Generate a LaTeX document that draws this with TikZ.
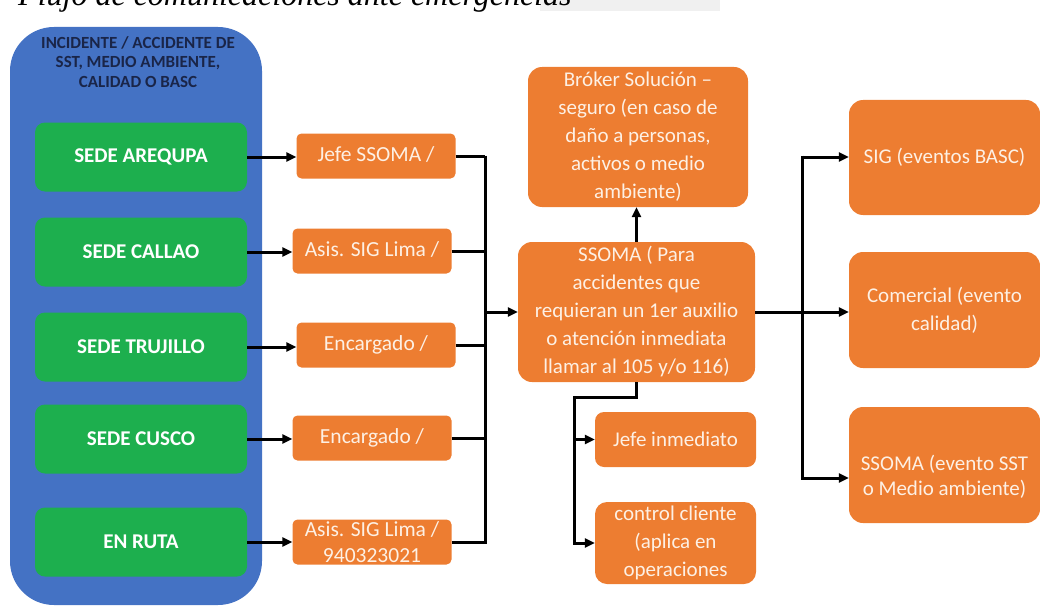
\documentclass[tikz,border=0pt]{standalone}
\usepackage{fontspec}
\setmainfont{Carlito}
\newfontfamily\titlefont{Liberation Serif}
\usetikzlibrary{arrows.meta}
\definecolor{blu}{HTML}{4472C4}
\definecolor{grn}{HTML}{1DAF4E}
\definecolor{org}{HTML}{ED7D31}
\definecolor{navy}{HTML}{1A2548}
\definecolor{cream}{HTML}{FDF0E4}
\tikzset{
  greenbox/.style={fill=grn, rounded corners=10pt, minimum width=212pt, minimum height=69pt,
    text=white, font=\fontsize{21}{24}\selectfont\bfseries},
  midbox/.style={fill=org, rounded corners=5pt, minimum width=159pt, minimum height=45pt,
    inner ysep=0pt, text=cream, align=center, font=\fontsize{21.5}{26}\selectfont},
  bigbox/.style={fill=org, rounded corners=14pt, inner sep=0pt, text=cream, align=center,
    font=\fontsize{21}{28}\selectfont},
  boxtext/.style={text=cream, align=center, inner sep=0pt, font=\fontsize{21}{25}\selectfont},
  ln/.style={line width=3pt, black},
  arr/.style={line width=3pt, black, -{Triangle[length=10pt,width=9pt]}},
}
\begin{document}
\begin{tikzpicture}[x=1pt,y=-1pt]
\useasboundingbox (0,0) rectangle (1040,607);
\clip (0,0) rectangle (1040,607);
% faded strip behind the title
\fill[gray!12] (540,0) rectangle (720,11);
\node[anchor=base west, inner sep=0pt, font=\titlefont\itshape\fontsize{32}{36}\selectfont] (title) at (18,6) {Flujo de comunicaciones ante emergencias};
% left column
\node[fill=blu, rounded corners=44pt, minimum width=252pt, minimum height=578pt] (blue) at (136,316) {};
\node[text=navy, align=center, font=\fontsize{17}{19.5}\selectfont\bfseries] (hdr) at (138,62) {INCIDENTE / ACCIDENTE DE\\SST, MEDIO AMBIENTE,\\CALIDAD O BASC};
\node[greenbox] (g1) at (141,157) {SEDE AREQUPA};
\node[greenbox] (g2) at (141,252) {SEDE CALLAO};
\node[greenbox] (g3) at (141,347) {SEDE TRUJILLO};
\node[greenbox] (g4) at (141,439) {SEDE CUSCO};
\node[greenbox] (g5) at (141,542) {EN RUTA};
% middle contacts
\node[midbox] (m1) at (376,156) {\raisebox{4pt}{Jefe SSOMA /}};
\node[midbox] (m2) at (372,251) {\raisebox{4pt}{Asis. SIG Lima /}};
\node[midbox] (m3) at (376,345) {\raisebox{4pt}{Encargado /}};
\node[midbox] (m4) at (372,438) {\raisebox{4pt}{Encargado /}};
\node[midbox] (m5) at (372,542) {Asis. SIG Lima /\\940323021};
% central boxes
\node[bigbox, minimum width=237pt, minimum height=140pt] (ssoma) at (636.5,312) {\raisebox{-2pt}{\parbox{230pt}{\centering SSOMA ( Para\\accidentes que\\requieran un 1er auxilio\\o atención inmediata\\llamar al 105 y/o 116)}}};
\node[bigbox, minimum width=220pt, minimum height=140pt] (broker) at (638,137) {\raisebox{-3pt}{\parbox{215pt}{\centering Bróker Solución –\\seguro (en caso de\\daño a personas,\\activos o medio\\ambiente)}}};
\node[bigbox, rounded corners=9pt, minimum width=161pt, minimum height=55pt] (ji) at (675.5,439.5) {Jefe inmediato};
\node[bigbox, rounded corners=12pt, minimum width=161pt, minimum height=82pt] (cc) at (675.5,543) {\fontsize{21}{27}\selectfont control cliente\\(aplica en\\operaciones};
% right boxes
\node[bigbox, minimum width=191pt, minimum height=115pt] (sig) at (944.5,157.5) {SIG (eventos BASC)};
\node[bigbox, minimum width=191pt, minimum height=116pt] (com) at (944.5,310) {\raisebox{-4pt}{\parbox{185pt}{\centering Comercial (evento\\calidad)}}};
\node[bigbox, minimum width=191pt, minimum height=116pt] (sev) at (944.5,465) {};
\node[boxtext] (sevt) at (944.5,477) {SSOMA (evento SST\\o Medio ambiente)};
% connectors: sites to contacts
\foreach \g/\m in {g1/m1,g2/m2,g3/m3,g4/m4,g5/m5}
  \draw[arr] (\g.east) -- (\g.east -| \m.west);
% contacts to bus
\coordinate (bt) at (485,157);
\coordinate (bb) at (485,542);
\foreach \m in {m1,m2,m3,m4,m5}
  \draw[ln] (\m.east) -- (\m.east -| bt);
\draw[ln] ([yshift=1.5pt]bt) -- ([yshift=-1.5pt]bb);
\draw[arr] (bt |- ssoma.west) -- (ssoma.west);
% ssoma up to broker
\draw[arr] (ssoma.north) -- (ssoma.north |- broker.south);
% ssoma down
\coordinate (d1) at (574,397);
\draw[ln] (ssoma.south) |- (d1) -- ([yshift=-1.5pt]d1 |- cc.west);
\draw[arr] (d1 |- ji.west) -- (ji.west);
\draw[arr] (d1 |- cc.west) -- (cc.west);
% ssoma right
\coordinate (r1) at (802,157);
\coordinate (r2) at (802,478);
\draw[ln] (ssoma.east) -- (ssoma.east -| r1);
\draw[ln] ([yshift=1.5pt]r1) -- ([yshift=-1.5pt]r2);
\draw[arr] (r1) -- (r1 -| sig.west);
\draw[arr] (ssoma.east -| r1) -- (ssoma.east -| com.west);
\draw[arr] (r2) -- (r2 -| sev.west);
\end{tikzpicture}
\end{document}
